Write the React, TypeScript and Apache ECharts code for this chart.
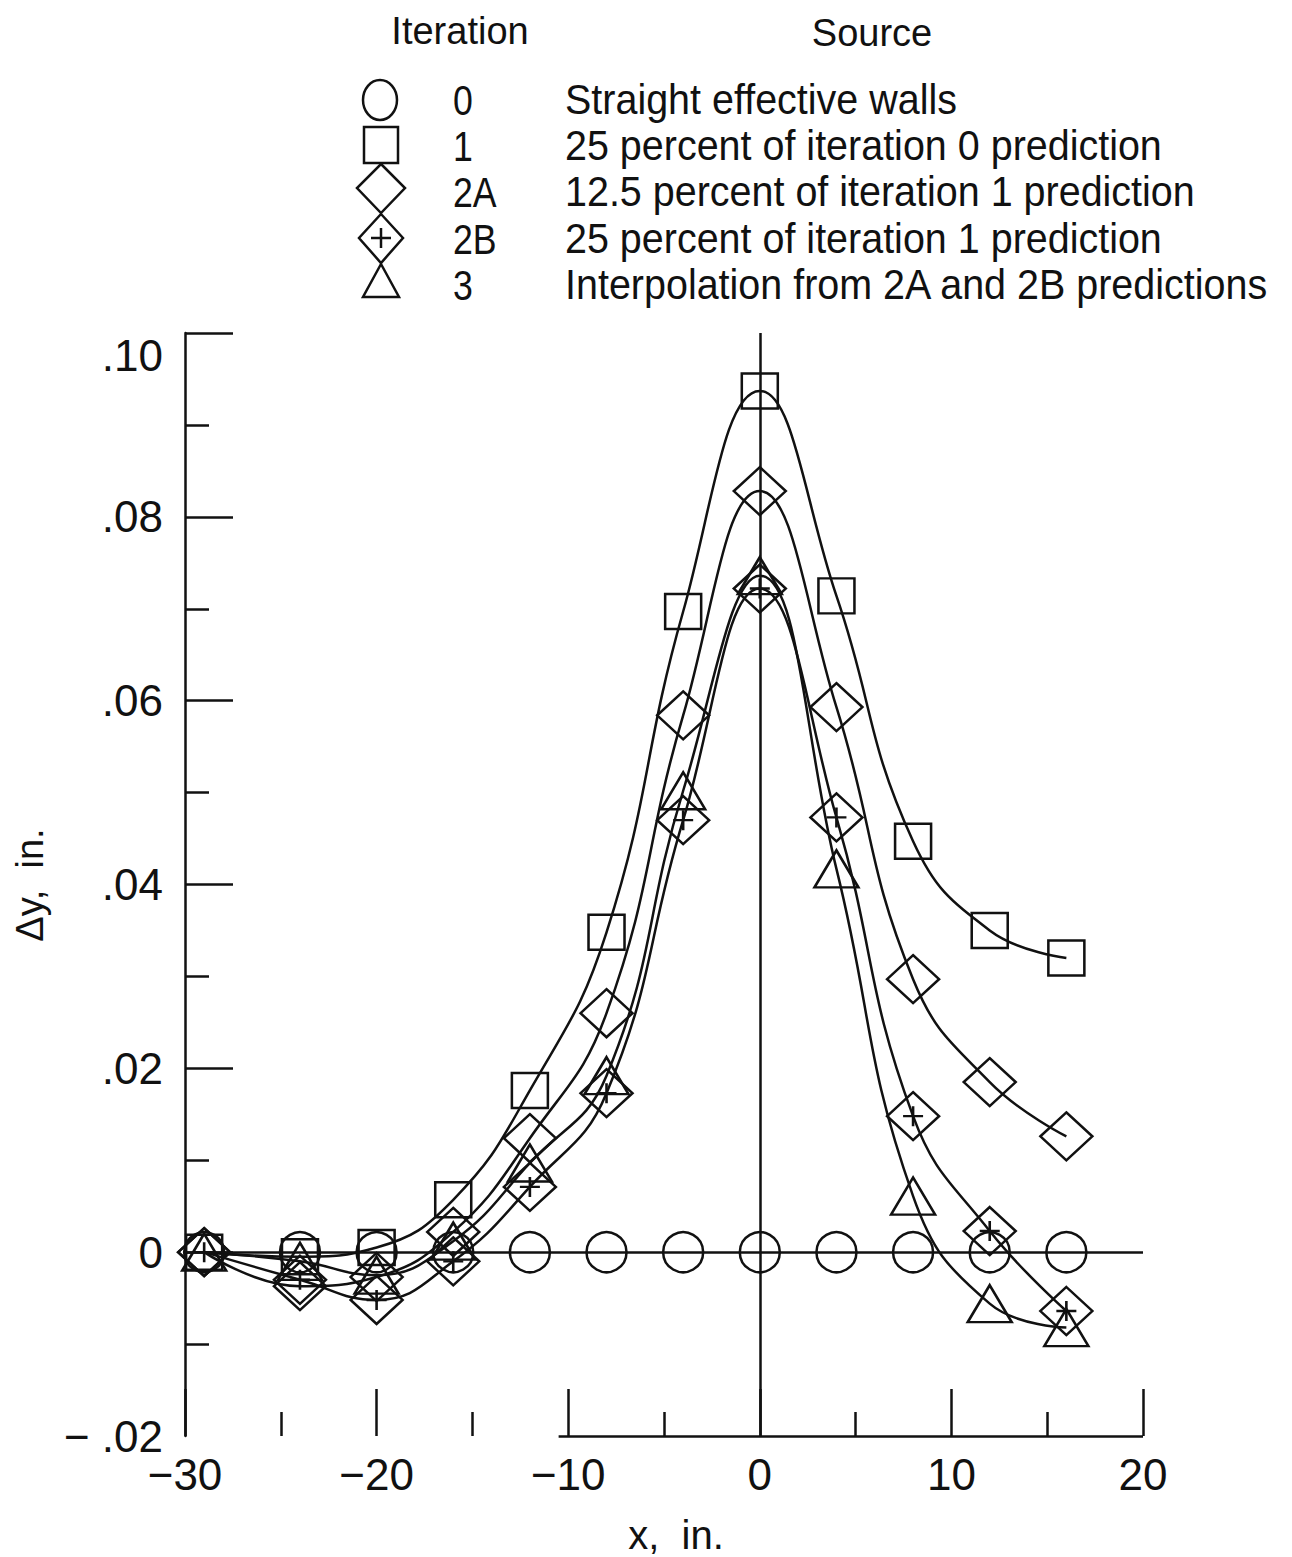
import React, { useEffect, useRef } from "react";
import * as echarts from "echarts";

// ---- data ----
const X_STATIONS = [-29, -24, -20, -16, -12, -8, -4, 0, 4, 8, 12, 16];
const ITER_0 = [0, 0, 0, 0, 0, 0, 0, 0, 0, 0, 0, 0];
const ITER_1 = [0, -0.0005, 0.0005, 0.0057, 0.0176, 0.0348, 0.0697, 0.0937, 0.0714, 0.0447, 0.035, 0.032];
const ITER_2A = [0, -0.0037, -0.0027, 0.0022, 0.0124, 0.026, 0.0584, 0.0828, 0.0593, 0.0297, 0.0185, 0.0126];
const ITER_2B = [0, -0.003, -0.0052, -0.001, 0.0071, 0.0173, 0.047, 0.0722, 0.0473, 0.0148, 0.0023, -0.0064];
const ITER_3 = [0, -0.001, -0.0025, 0.0012, 0.0097, 0.0192, 0.0502, 0.0736, 0.0417, 0.0061, -0.0056, -0.0082];

const LEGEND_ITER = ["0", "1", "2A", "2B", "3"];
const LEGEND_SOURCE = [
  "Straight effective walls",
  "25 percent of iteration 0 prediction",
  "12.5 percent of iteration 1 prediction",
  "25 percent of iteration 1 prediction",
  "Interpolation from 2A and 2B predictions",
];

const X_MIN = -30;
const X_MAX = 20;
const Y_MIN = -0.02;
const Y_MAX = 0.1;
const Y_MAJOR_TICKS = [0, 0.02, 0.04, 0.06, 0.08, 0.1];
const BOTTOM_LINE_START = -10.5;

const INK = "#111";
const LW = 2.5;
const TICK_FONT = "'Liberation Sans', Arial, sans-serif";
const LEG_FONT = "'Liberation Sans', Arial, sans-serif";
const LEG_SCALE = 0.94;

const DIAMOND_PLUS =
  "path://M26 0 L52 24 L26 48 L0 24 Z M16 24 L36 24 M26 14 L26 34";

function pts(ys: number[]) {
  return X_STATIONS.map((x, i) => [x, ys[i]]);
}

function fmtY(v: number) {
  const r = Math.round(v * 100) / 100;
  if (Math.abs(r) < 1e-9) return "0";
  const s = Math.abs(r).toFixed(2).replace(/^0/, "");
  return r < 0 ? "\u2212 " + s : s;
}
function fmtX(v: number) {
  const r = Math.round(v);
  return r < 0 ? "\u2212" + Math.abs(r) : String(r);
}

export default function App() {
  const ref = useRef<HTMLDivElement>(null);
  useEffect(() => {
    if (!ref.current) return;
    const chart = echarts.init(ref.current, undefined, { renderer: "svg" });

    const symStyle = { color: "transparent", borderColor: INK, borderWidth: LW };
    const lineStyle = { color: INK, width: LW };
    const mkSeries = (name: string, ys: number[], symbol: string, size: any, showLine = true) => ({
      name,
      type: "line",
      data: pts(ys),
      smooth: 0.45,
      symbol,
      symbolSize: size,
      showSymbol: true,
      lineStyle: showLine ? lineStyle : { color: INK, width: 0, opacity: 0 },
      itemStyle: symStyle,
      emphasis: { disabled: true },
      z: 3,
    });

    // legend graphics
    const lx = 381;
    const rowsY = [100, 146, 192, 239, 285];
    const shapeStyle = { fill: "none", stroke: INK, lineWidth: LW };
    const legendGraphics: any[] = [
      { type: "text", x: 460, y: 31, style: { text: "Iteration", font: `38px ${LEG_FONT}`, fill: INK, textAlign: "center", textVerticalAlign: "middle" } },
      { type: "text", x: 872, y: 33, style: { text: "Source", font: `38px ${LEG_FONT}`, fill: INK, textAlign: "center", textVerticalAlign: "middle" } },
      { type: "ellipse", shape: { cx: lx - 1, cy: 100, rx: 17, ry: 20 }, style: shapeStyle },
      { type: "rect", shape: { x: lx - 17, y: 127, width: 34, height: 36 }, style: shapeStyle },
      { type: "polygon", shape: { points: [[lx, 164], [lx + 24, 188], [lx, 213], [lx - 24, 188]] }, style: shapeStyle },
      { type: "polygon", shape: { points: [[lx, 214], [lx + 22, 238], [lx, 263], [lx - 22, 238]] }, style: shapeStyle },
      { type: "line", shape: { x1: lx - 10, y1: 238, x2: lx + 10, y2: 238 }, style: { stroke: INK, lineWidth: LW } },
      { type: "line", shape: { x1: lx, y1: 228, x2: lx, y2: 248 }, style: { stroke: INK, lineWidth: LW } },
      { type: "polygon", shape: { points: [[lx, 264], [lx + 18, 297], [lx - 18, 297]] }, style: shapeStyle },
    ];
    LEGEND_ITER.forEach((t, i) => {
      legendGraphics.push({
        type: "text",
        x: 453,
        y: rowsY[i],
        scaleX: 0.85,
        style: { text: t, font: `42px ${LEG_FONT}`, fill: INK, textAlign: "left", textVerticalAlign: "middle" },
      });
    });
    LEGEND_SOURCE.forEach((t, i) => {
      legendGraphics.push({
        type: "text",
        x: 565,
        y: rowsY[i],
        scaleX: LEG_SCALE,
        style: { text: t, font: `42px ${LEG_FONT}`, fill: INK, textAlign: "left", textVerticalAlign: "middle" },
      });
    });
    // axis titles
    legendGraphics.push({
      type: "text",
      x: 30,
      y: 885,
      rotation: Math.PI / 2,
      style: { text: "\u0394y,  in.", font: `38px ${LEG_FONT}`, fill: INK, textAlign: "center", textVerticalAlign: "middle" },
    });
    legendGraphics.push({
      type: "text",
      x: 676,
      y: 1535,
      style: { text: "x,  in.", font: `40px ${LEG_FONT}`, fill: INK, textAlign: "center", textVerticalAlign: "middle" },
    });

    const option: any = {
      animation: false,
      backgroundColor: "#fff",
      grid: { left: 185, right: 149, top: 333, bottom: 121, containLabel: false },
      xAxis: {
        type: "value",
        min: X_MIN,
        max: X_MAX,
        interval: 10,
        axisLine: { show: false, onZero: false },
        axisTick: { show: true, inside: true, length: 47, lineStyle: { color: INK, width: LW } },
        minorTick: { show: true, splitNumber: 2, length: 24, lineStyle: { color: INK, width: LW } },
        splitLine: { show: false },
        axisLabel: {
          formatter: fmtX,
          margin: 16,
          color: INK,
          fontSize: 44,
          fontFamily: TICK_FONT,
        },
      },
      yAxis: {
        type: "value",
        min: Y_MIN,
        max: Y_MAX,
        interval: 0.02,
        axisLine: { show: true, onZero: false, lineStyle: { color: INK, width: LW } },
        axisTick: { show: true, inside: true, length: 48, customValues: Y_MAJOR_TICKS, lineStyle: { color: INK, width: LW } },
        minorTick: { show: true, splitNumber: 2, length: 24, lineStyle: { color: INK, width: LW } },
        splitLine: { show: false },
        axisLabel: {
          formatter: fmtY,
          margin: 22,
          color: INK,
          fontSize: 44,
          fontFamily: TICK_FONT,
          verticalAlignMaxLabel: "top",
        },
      },
      graphic: legendGraphics,
      series: [
        {
          name: "refs",
          type: "line",
          data: [],
          silent: true,
          z: 1,
          markLine: {
            silent: true,
            symbol: ["none", "none"],
            label: { show: false },
            lineStyle: { color: INK, width: LW, type: "solid" },
            emphasis: { disabled: true },
            data: [
              [{ coord: [X_MIN, 0] }, { coord: [X_MAX, 0] }],
              [{ coord: [0, Y_MIN] }, { coord: [0, Y_MAX] }],
              [{ coord: [BOTTOM_LINE_START, Y_MIN] }, { coord: [X_MAX, Y_MIN] }],
            ],
          },
        },
        mkSeries("0", ITER_0, "circle", [40, 40], false),
        mkSeries("1", ITER_1, "rect", [36, 35]),
        mkSeries("2A", ITER_2A, "diamond", [52, 48]),
        mkSeries("2B", ITER_2B, DIAMOND_PLUS, [52, 48]),
        mkSeries("3", ITER_3, "triangle", [44, 37]),
      ],
    };
    chart.setOption(option);
    return () => chart.dispose();
  }, []);

  return (
    <div
      ref={ref}
      style={{ position: "fixed", left: 0, top: 0, width: 1292, height: 1557, background: "#fff" }}
    />
  );
}
